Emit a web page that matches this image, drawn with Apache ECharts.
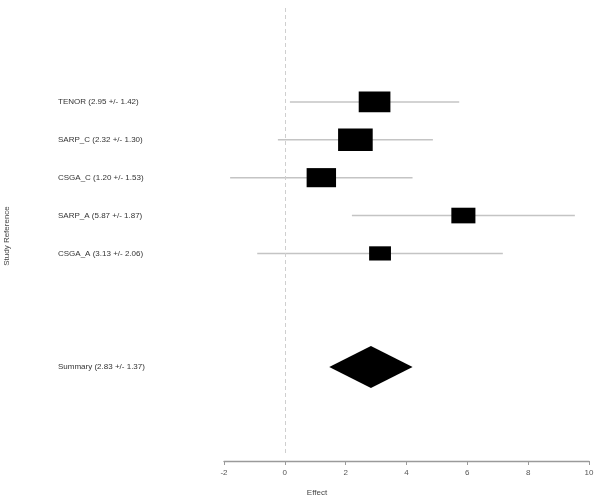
<!DOCTYPE html>
<html>
<head>
<meta charset="utf-8">
<script src="https://cdn.jsdelivr.net/npm/echarts@6/dist/echarts.min.js"></script>
<style>
  html, body { margin: 0; padding: 0; background: #fff; }
  #forest { width: 601px; height: 501px; }
</style>
</head>
<body>
<div id="forest"></div>
<script>
  // study data
  var studyNames = ['TENOR', 'SARP_C', 'CSGA_C', 'SARP_A', 'CSGA_A'];
  var studyEffects = [2.95, 2.32, 1.20, 5.87, 3.13];
  var studySE = [1.42, 1.30, 1.53, 1.87, 2.06];
  // pooled estimate
  var summaryName = 'Summary';
  var summaryEffect = 2.83;
  var summarySE = 1.37;
  var xTicks = [-2, 0, 2, 4, 6, 8, 10];

  var FONT = 'Liberation Sans, Arial, sans-serif';
  var labelX = 58;

  function fmt(name, est, se) {
    return name + ' (' + est.toFixed(2) + ' +/- ' + se.toFixed(2) + ')';
  }

  var summaryRow = studyNames.length + 3;
  var studyData = studyNames.map(function (n, i) {
    return [studyEffects[i], i + 1, studySE[i]];
  });

  var myChart = echarts.init(document.getElementById('forest'));
  var option = {
    animation: false,
    grid: { left: 224, right: 12, top: 8, bottom: 48 },
    xAxis: {
      type: 'value',
      position: 'bottom',
      min: xTicks[0],
      max: xTicks[xTicks.length - 1],
      interval: 2,
      offset: 8,
      splitLine: { show: false },
      axisLine: { show: true, onZero: false, lineStyle: { color: '#9a9a9a', width: 1.3 } },
      axisTick: { show: true, length: 4, lineStyle: { color: '#9a9a9a' } },
      axisLabel: { color: '#555', fontFamily: FONT, fontSize: 8, margin: 8 }
    },
    yAxis: {
      type: 'value',
      inverse: true,
      min: -1.48,
      max: 10.27,
      show: false
    },
    graphic: [
      {
        type: 'text', x: 317, y: 493,
        style: { text: 'Effect', font: '8px ' + FONT, fill: '#444',
                 align: 'center', verticalAlign: 'middle',
                 textAlign: 'center', textVerticalAlign: 'middle' }
      },
      {
        type: 'text', x: 6.5, y: 236, rotation: Math.PI / 2,
        style: { text: 'Study Reference', font: '8px ' + FONT, fill: '#444',
                 align: 'center', verticalAlign: 'middle',
                 textAlign: 'center', textVerticalAlign: 'middle' }
      }
    ],
    series: [
      {
        type: 'custom',
        name: 'studies',
        data: studyData,
        encode: { x: 0, y: 1 },
        clip: false,
        renderItem: function (params, api) {
          var est = api.value(0), row = api.value(1), se = api.value(2);
          var lo = api.coord([est - 1.96 * se, row]);
          var hi = api.coord([est + 1.96 * se, row]);
          var c = api.coord([est, row]);
          var w = api.size([1.48 / se, 0])[0];
          var h = w * 0.65;
          return {
            type: 'group',
            children: [
              { type: 'line', shape: { x1: lo[0], y1: lo[1], x2: hi[0], y2: hi[1] },
                style: { stroke: '#c4c4c4', lineWidth: 1.5 } },
              { type: 'rect', shape: { x: c[0] - w / 2, y: c[1] - h / 2, width: w, height: h },
                style: { fill: '#000' } },
              { type: 'text', x: labelX, y: c[1],
                style: { text: fmt(studyNames[params.dataIndex], est, se),
                         font: '8px ' + FONT, fill: '#333',
                         align: 'left', verticalAlign: 'middle',
                         textAlign: 'left', textVerticalAlign: 'middle' } }
            ]
          };
        },
        markLine: {
          silent: true,
          symbol: 'none',
          label: { show: false },
          lineStyle: { color: '#cfcfcf', type: [4, 3], width: 1 },
          data: [{ xAxis: 0 }]
        }
      },
      {
        type: 'custom',
        name: 'summary',
        data: [[summaryEffect, summaryRow, summarySE]],
        encode: { x: 0, y: 1 },
        clip: false,
        renderItem: function (params, api) {
          var est = api.value(0), row = api.value(1), se = api.value(2);
          var l = api.coord([est - se, row]);
          var r = api.coord([est + se, row]);
          var c = api.coord([est, row]);
          var hh = 21;
          return {
            type: 'group',
            children: [
              { type: 'polygon',
                shape: { points: [[l[0], c[1]], [c[0], c[1] - hh], [r[0], c[1]], [c[0], c[1] + hh]] },
                style: { fill: '#000' } },
              { type: 'text', x: labelX, y: c[1],
                style: { text: fmt(summaryName, est, se),
                         font: '8px ' + FONT, fill: '#333',
                         align: 'left', verticalAlign: 'middle',
                         textAlign: 'left', textVerticalAlign: 'middle' } }
            ]
          };
        }
      }
    ]
  };
  myChart.setOption(option);
  window.onresize = function () { myChart.resize(); };
</script>
</body>
</html>
